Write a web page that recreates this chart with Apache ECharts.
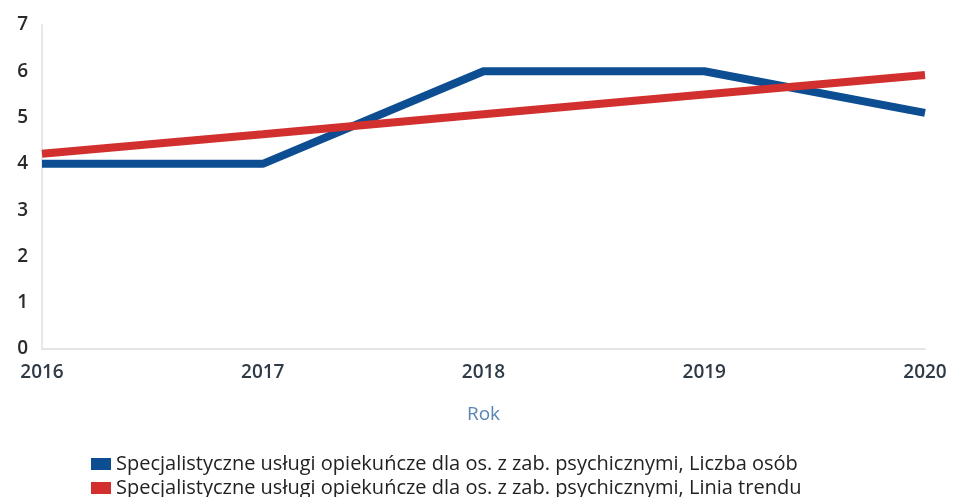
<!DOCTYPE html>
<html>
<head>
<meta charset="utf-8">
<script src="https://cdn.jsdelivr.net/npm/echarts@6/dist/echarts.min.js"></script>
<style>
  html, body { margin: 0; padding: 0; background: #fff; }
  #chart { width: 954px; height: 497px; }
</style>
</head>
<body>
<div id="chart"></div>
<script>
// dane
var years = ['2016', '2017', '2018', '2019', '2020'];
var liczbaOsob = [4, 4, 6, 6, 5.1];
var liniaTrendu = [4.22, 4.64, 5.07, 5.5, 5.92];
var seriesNames = [
    'Specjalistyczne usługi opiekuńcze dla os. z zab. psychicznymi, Liczba osób',
    'Specjalistyczne usługi opiekuńcze dla os. z zab. psychicznymi, Linia trendu'
];

var chart = echarts.init(document.getElementById('chart'));

// wspólny styl legendy
function legendRow(name, top) {
    return {
        left: 86,
        top: top,
        itemWidth: 20,
        itemHeight: 12,
        icon: 'rect',
        textStyle: {fontSize: 20, color: '#222'},
        data: [name]
    };
}

var option = {
    animation: false,
    textStyle: {fontFamily: 'Open Sans'},
    color: ['#0d4d92', '#d22f2f'],
    grid: {left: 42, right: 29, top: 25, bottom: 148},
    legend: [
        legendRow(seriesNames[0], 449),
        legendRow(seriesNames[1], 473)
    ],
    xAxis: {
        type: 'category',
        boundaryGap: false,
        data: years,
        name: 'Rok',
        nameLocation: 'middle',
        nameGap: 56,
        nameTextStyle: {color: '#5a86b4', fontSize: 19},
        axisLine: {lineStyle: {color: '#e4e4e4', width: 2}},
        axisTick: {show: false},
        axisLabel: {color: '#2e3a46', fontSize: 19, fontWeight: 600, margin: 14}
    },
    yAxis: {
        type: 'value',
        min: 0,
        max: 7,
        interval: 1,
        axisLine: {show: true, lineStyle: {color: '#e8e8e8', width: 2}},
        axisTick: {show: false},
        splitLine: {show: false},
        axisLabel: {color: '#2a2a2a', fontSize: 19, fontWeight: 600, margin: 14}
    },
    series: [
        {
            name: seriesNames[0],
            type: 'line',
            data: liczbaOsob,
            symbol: 'none',
            lineStyle: {width: 8}
        },
        {
            name: seriesNames[1],
            type: 'line',
            data: liniaTrendu,
            symbol: 'none',
            lineStyle: {width: 8}
        }
    ]
};

chart.setOption(option);
</script>
</body>
</html>
